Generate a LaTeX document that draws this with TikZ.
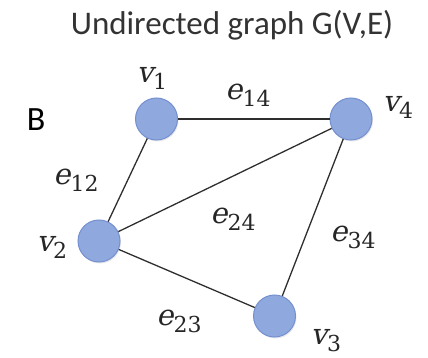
\documentclass[tikz,border=0pt]{standalone}
\usepackage{fontspec}
\setmainfont{Carlito}
\newfontfamily\labfont{DejaVu Serif}
\newfontfamily\labitfont[FakeSlant=0.22]{DejaVu Serif}
\usetikzlibrary{shadows}
\definecolor{nodefill}{HTML}{8FA8DE}
\definecolor{nodeline}{HTML}{7590D0}
\definecolor{edgecol}{HTML}{2E2E2E}
\newcommand{\glab}[2]{{\labitfont\fontsize{29}{32}\selectfont #1}\raisebox{-7pt}{\labfont\fontsize{22}{24}\selectfont #2}}
\tikzset{
  vert/.style={circle, minimum size=42pt, inner sep=0pt, fill=nodefill, draw=nodeline, line width=1pt,
    drop shadow={opacity=0.18, shadow xshift=1pt, shadow yshift=-1.5pt}},
  edge/.style={draw=edgecol, line width=1.3pt},
  lbl/.style={inner sep=0pt, text=black!85},
}
\begin{document}
\begin{tikzpicture}[x=1pt,y=-1pt]
\useasboundingbox (0,0) rectangle (428,358);
\node[inner sep=0pt, text=black!80, font=\fontsize{33}{38}\selectfont] (title) at (232,25) {Undirected graph G(V,E)};
\node[inner sep=0pt, text=black, font=\fontsize{34}{40}\selectfont] (B) at (36,120) {B};
\node[vert] (v1) at (156.5,119) {};
\node[vert] (v4) at (351,119) {};
\node[vert] (v2) at (99,241) {};
\node[vert] (v3) at (274.5,316) {};
\path[edge] (v1) -- (v4);
\path[edge] (v1) -- (v2);
\path[edge] (v2) -- (v4);
\path[edge] (v2) -- (v3);
\path[edge] (v3) -- (v4);
\node[lbl] (l1) at (152,78) {\glab{v}{1}};
\node[lbl] (l4) at (398,107) {\glab{v}{4}};
\node[lbl] (l2) at (52,247) {\glab{v}{2}};
\node[lbl] (l3) at (326,341) {\glab{v}{3}};
\node[lbl] (e14) at (248,95) {\glab{e}{14}};
\node[lbl] (e12) at (76,180) {\glab{e}{12}};
\node[lbl] (e24) at (233,219) {\glab{e}{24}};
\node[lbl] (e34) at (353,237) {\glab{e}{34}};
\node[lbl] (e23) at (179,321) {\glab{e}{23}};
\end{tikzpicture}
\end{document}
